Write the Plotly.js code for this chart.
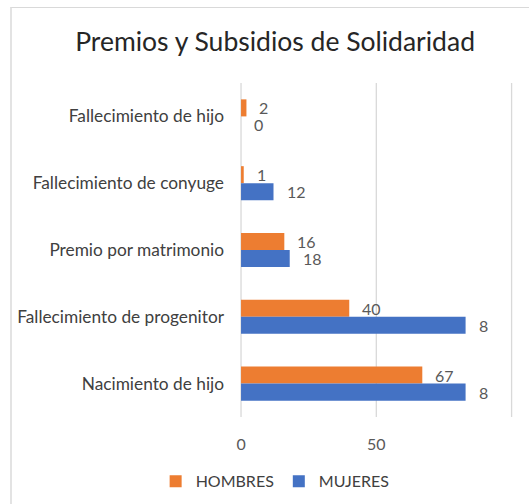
<!DOCTYPE html>
<html>
<head>
<meta charset="utf-8">
<script src="https://cdn.plot.ly/plotly-3.0.1.min.js"></script>
<style>
  body { margin: 0; background: #fff; }
  #chart { position: absolute; left: 0; top: 0; width: 529px; height: 504px; }
  #frame { position: absolute; left: 10px; top: 7px; width: 540px; height: 520px;
           border-left: 2px solid #e3e3e3; border-top: 1px solid #d9d9d9; pointer-events: none; }
</style>
</head>
<body>
<div id="chart"></div>
<div id="frame"></div>
<script>
// categories, top to bottom as in the picture
const categories = [
  'Fallecimiento de hijo',
  'Fallecimiento de conyuge',
  'Premio por matrimonio',
  'Fallecimiento de progenitor',
  'Nacimiento de hijo'
];
const hombres = [2, 1, 16, 40, 67];
const mujeres = [0, 12, 18, 83, 83];
// data labels as they appear (the two long ones are cut to "8")
const hombresLabels = ['2', '1', '16', '40', '67'];
const mujeresLabels = ['0', '12', '18', '8', '8'];

const xTicks = [0, 50, 100];
const xTickText = ['0', '50', ''];

const ORANGE = '#ED7D31';
const BLUE = '#4472C4';
const GRID = '#d9d9d9';
const FONT = 'Lato, "Open Sans", sans-serif';

const traces = [
  {
    type: 'bar',
    orientation: 'h',
    name: 'HOMBRES',
    y: categories,
    x: hombres,
    marker: { color: ORANGE },
    hoverinfo: 'x+name',
  },
  {
    type: 'bar',
    orientation: 'h',
    name: 'MUJERES',
    y: categories,
    x: mujeres,
    marker: { color: BLUE },
    hoverinfo: 'x+name',
  }
];

const makeLabels = (values, labels, shift) => values.map((v, i) => ({
  x: v,
  y: categories[i],
  xref: 'x',
  yref: 'y',
  text: labels[i],
  showarrow: false,
  xanchor: 'left',
  yanchor: 'middle',
  xshift: 11,
  yshift: shift,
  font: { family: FONT, size: 16, color: '#595959' },
}));

// vertical grid lines at every tick, drawn under the bars
const gridLines = xTicks.map(v => ({
  type: 'line',
  xref: 'x',
  yref: 'paper',
  x0: v,
  x1: v,
  y0: 0,
  y1: 1,
  layer: 'below',
  line: { color: GRID, width: 1.3 },
}));

const layout = {
  width: 529,
  height: 504,
  margin: { l: 239, r: 12, t: 83, b: 87 },
  paper_bgcolor: '#fff',
  plot_bgcolor: '#fff',
  barmode: 'group',
  bargap: 0.49,
  bargroupgap: 0,
  font: { family: FONT, color: '#404040' },
  title: {
    text: 'Premios y Subsidios de Solidaridad',
    font: { family: FONT, size: 26.5, color: '#262626' },
    xref: 'container',
    yref: 'container',
    x: 0.52,
    y: 0.917,
    xanchor: 'center',
    yanchor: 'middle',
  },
  xaxis: {
    range: [-0.75, 102],
    tickvals: xTicks,
    ticktext: xTickText,
    showgrid: false,
    zeroline: false,
    showline: false,
    ticks: '',
    ticklabelstandoff: 16,
    automargin: false,
    tickfont: { family: FONT, size: 16, color: '#595959' },
    fixedrange: true,
  },
  yaxis: {
    type: 'category',
    autorange: 'reversed',
    showgrid: false,
    zeroline: false,
    showline: false,
    ticks: '',
    ticklabelstandoff: 14,
    automargin: false,
    tickfont: { family: FONT, size: 17.3, color: '#404040' },
    fixedrange: true,
  },
  showlegend: true,
  legend: {
    orientation: 'h',
    x: 0.13,
    xanchor: 'center',
    yref: 'container',
    y: 0.045,
    yanchor: 'middle',
    font: { family: FONT, size: 16, color: '#404040' },
    itemwidth: 30,
  },
  shapes: gridLines,
  annotations: [
    ...makeLabels(hombres, hombresLabels, 8.5),
    ...makeLabels(mujeres, mujeresLabels, -8.5),
  ],
};

Plotly.newPlot('chart', traces, layout, { displayModeBar: false, staticPlot: true });
</script>
</body>
</html>
